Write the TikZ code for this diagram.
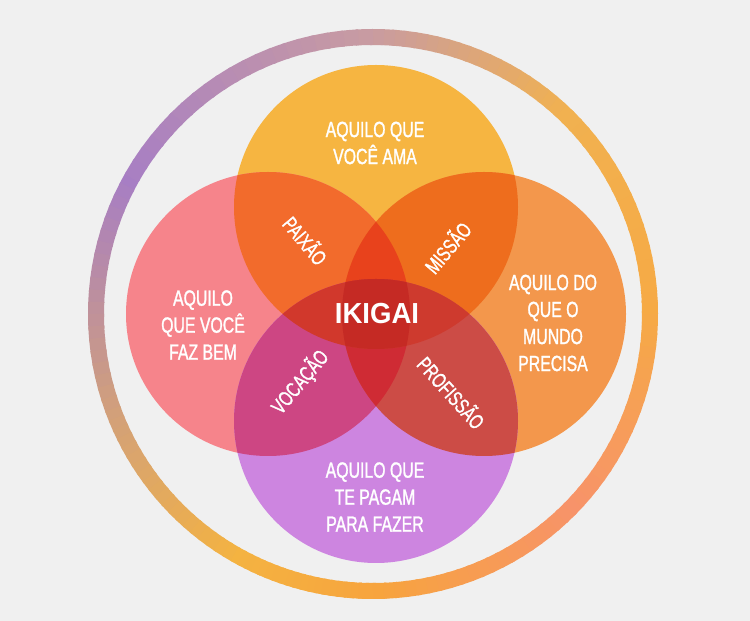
\documentclass[tikz,border=0pt]{standalone}
\usepackage{fontspec}
\setmainfont[FakeStretch=0.72,FakeBold=1.3]{Liberation Sans}
\newfontfamily\ikifont[FakeStretch=0.95]{Liberation Sans}

\definecolor{bgcol}{HTML}{F0F0F0}
\definecolor{cT}{HTML}{F6B541}
\definecolor{cL}{HTML}{F6848B}
\definecolor{cR}{HTML}{F3974C}
\definecolor{cB}{HTML}{CD85E0}
\definecolor{cTL}{HTML}{F26B2C}
\definecolor{cTR}{HTML}{EE6D1D}
\definecolor{cLB}{HTML}{CD4683}
\definecolor{cRB}{HTML}{CC4C46}
\definecolor{cTLR}{HTML}{E8421C}
\definecolor{cLRB}{HTML}{CF2B34}
\definecolor{cTLB}{HTML}{D1382C}
\definecolor{cTRB}{HTML}{CE3A2E}
\definecolor{cAll}{HTML}{C52A24}
\definecolor{ringA}{HTML}{A77EC4}
\definecolor{ringB}{HTML}{D2A07A}
\definecolor{ringC}{HTML}{F4B341}
\definecolor{ringD}{HTML}{F7A43E}
\definecolor{ringE}{HTML}{F7936A}
\definecolor{ringF}{HTML}{F6AA45}
\definecolor{ringG}{HTML}{F1B150}
\definecolor{ringH}{HTML}{C89BA2}

\begin{document}
\begin{tikzpicture}[x=1pt,y=1pt,
  ring/.style={line width=16pt,line cap=butt},
  lbl/.style={text=white,align=center,font=\fontsize{22}{27}\selectfont},
  tag/.style={text=white,font=\fontsize{21}{22}\selectfont},
  core/.style={text=white,font=\ikifont\bfseries\fontsize{29}{32}\selectfont}
]
  \fill[bgcol] (0,0) rectangle (750,621);

  \coordinate (ctr) at (373,307);
  \coordinate (T) at (376,414);
  \coordinate (L) at (268,307);
  \coordinate (R) at (484,307);
  \coordinate (B) at (376,200);
  \def\rad{142}

  \foreach \sa/\sb/\ca/\cb in {150/200/ringA/ringB,200/240/ringB/ringC,
      240/270/ringC/ringD,270/315/ringD/ringE,315/360/ringE/ringF,
      360/405/ringF/ringG,405/450/ringG/ringH,450/510/ringH/ringA}{
    \foreach \k in {0,...,19}{
      \pgfmathsetmacro\t{\sa+(\sb-\sa)*\k/20}
      \pgfmathsetmacro\d{(\sb-\sa)/20+0.6}
      \pgfmathtruncatemacro\p{100*\k/20}
      \draw[ring,\cb!\p!\ca] (ctr) ++(\t:277) arc[start angle=\t,delta angle=\d,radius=277];
    }
  }

  \fill[cT] (T) circle[radius=\rad];
  \fill[cL] (L) circle[radius=\rad];
  \fill[cR] (R) circle[radius=\rad];
  \fill[cB] (B) circle[radius=\rad];

  \begin{scope}
    \clip (T) circle[radius=\rad];
    \fill[cTL] (L) circle[radius=\rad];
    \fill[cTR] (R) circle[radius=\rad];
  \end{scope}
  \begin{scope}
    \clip (B) circle[radius=\rad];
    \fill[cLB] (L) circle[radius=\rad];
    \fill[cRB] (R) circle[radius=\rad];
  \end{scope}
  \begin{scope}
    \clip (L) circle[radius=\rad];
    \clip (R) circle[radius=\rad];
    \fill[cTLR] (T) circle[radius=\rad];
    \fill[cLRB] (B) circle[radius=\rad];
  \end{scope}
  \begin{scope}
    \clip (T) circle[radius=\rad];
    \clip (B) circle[radius=\rad];
    \fill[cTLB] (L) circle[radius=\rad];
    \fill[cTRB] (R) circle[radius=\rad];
    \clip (L) circle[radius=\rad];
    \fill[cAll] (R) circle[radius=\rad];
  \end{scope}

  \node[lbl] (ama) at (375,478) {AQUILO QUE\\VOCÊ AMA};
  \node[lbl] (bem) at (203,296) {AQUILO\\QUE VOCÊ\\FAZ BEM};
  \node[lbl] (mundo) at (553,298) {AQUILO DO\\QUE O\\MUNDO\\PRECISA};
  \node[lbl] (pagam) at (375,124) {AQUILO QUE\\TE PAGAM\\PARA FAZER};

  \node[tag,rotate=-50] (paixao) at (306,381) {PAIXÃO};
  \node[tag,rotate=50] (missao) at (447,374) {MISSÃO};
  \node[tag,rotate=50] (vocacao) at (300,239) {VOCAÇÃO};
  \node[tag,rotate=-48] (profissao) at (452,229) {PROFISSÃO};

  \node[core] (ikigai) at (377,307) {IKIGAI};
\end{tikzpicture}
\end{document}
